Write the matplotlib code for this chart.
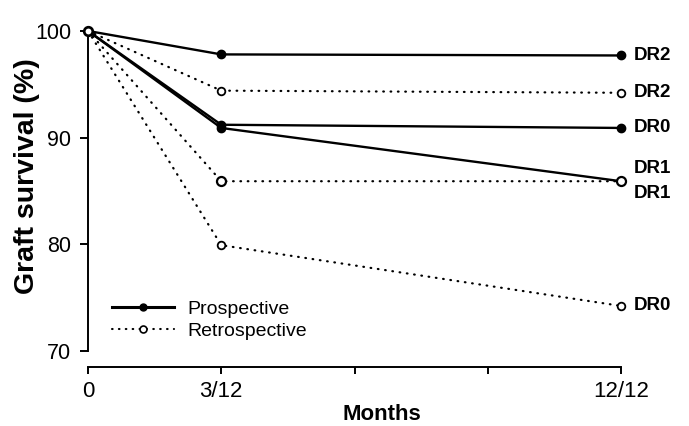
import matplotlib
matplotlib.use("Agg")
import matplotlib.pyplot as plt
from matplotlib.lines import Line2D

plt.rcParams['font.family'] = ['Liberation Sans', 'DejaVu Sans']

months = [0, 3, 12]
prosp_dr2 = [100, 97.8, 97.7]
prosp_dr0 = [100, 91.2, 90.9]
prosp_dr1 = [100, 90.9, 85.9]
retro_dr2 = [100, 94.4, 94.2]
retro_dr1 = [100, 85.9, 85.9]
retro_dr0 = [100, 79.9, 74.2]

xticks = [0, 3, 6, 9, 12]
xticklabels = ['0', '3/12', '', '', '12/12']
yticks = [70, 80, 90, 100]

fig = plt.figure(figsize=(6.89, 4.26), dpi=100)
W, H = 689, 426
x0, x12 = 88, 621
pxm = (x12 - x0) / 12.0
xmax = 13.0
y_top_px = 20.3
y_bot_px = 367
axw_px = xmax * pxm
axh_px = y_bot_px - y_top_px
ax = fig.add_axes([x0 / W, (H - y_bot_px) / H, axw_px / W, axh_px / H])
ax.set_xlim(0, xmax)
ax.set_ylim(68.47, 101)

solid = dict(color='black', lw=1.7, solid_capstyle='round', clip_on=False, zorder=3)
dotted = dict(color='black', lw=1.6, linestyle=(0, (0.3, 3.0)), dash_capstyle='round',
              clip_on=False, zorder=4)

ax.plot(months, prosp_dr2, marker='o', ms=6, mfc='black', mec='black', **solid)
ax.plot(months, prosp_dr0, marker='o', ms=6, mfc='black', mec='black', **solid)
ax.plot(months, prosp_dr1, marker='o', ms=6, mfc='black', mec='black', **solid)
ax.plot(months, retro_dr2, marker='o', ms=5.5, mfc='white', mec='black', mew=1.3, **dotted)
ax.plot(months, retro_dr1, marker='o', ms=6.5, mfc='white', mec='black', mew=1.6, **dotted)
ax.plot(months, retro_dr0, marker='o', ms=5.5, mfc='white', mec='black', mew=1.3, **dotted)

# end labels
labels = [
    (prosp_dr2[-1], 'DR2', 0),
    (retro_dr2[-1], 'DR2', 0),
    (prosp_dr0[-1], 'DR0', 0),
    (prosp_dr1[-1], 'DR1', 9),
    (retro_dr1[-1], 'DR1', -9),
    (retro_dr0[-1], 'DR0', 0),
]
for yv, txt, dy in labels:
    ax.annotate(txt, xy=(12, yv), xytext=(9.5, dy), textcoords='offset points',
                ha='left', va='center', fontsize=13.5, fontweight='bold', annotation_clip=False)

# spines
for s in ['top', 'right']:
    ax.spines[s].set_visible(False)
ax.spines['left'].set_bounds(70, 100)
ax.spines['bottom'].set_bounds(0, 12)
ax.spines['left'].set_linewidth(1.4)
ax.spines['bottom'].set_linewidth(1.4)

ax.set_yticks(yticks)
ax.set_yticklabels([str(v) for v in yticks])
ax.set_xticks(xticks)
ax.set_xticklabels(xticklabels)
ax.tick_params(axis='y', direction='out', length=6, width=1.4, pad=6, labelsize=15.5)
ax.tick_params(axis='x', direction='out', length=5, width=1.4, pad=5, labelsize=16)

ax.set_ylabel('Graft survival (%)', fontsize=20.5, fontweight='bold')
ax.yaxis.label.set_va('center')
ax.yaxis.set_label_coords((27 - x0) / axw_px, (y_bot_px - 176) / axh_px)
ax.set_xlabel('Months', fontsize=16, fontweight='bold')
ax.xaxis.label.set_va('center')
ax.xaxis.set_label_coords((382 - x0) / axw_px, (y_bot_px - 415) / axh_px)

h1 = Line2D([], [], color='black', lw=2.2, marker='o', ms=5, mfc='black')
h2 = Line2D([], [], color='black', lw=1.5, linestyle=(0, (0.3, 3.0)), dash_capstyle='round',
            marker='o', ms=5, mfc='white', mew=1.2)
leg = ax.legend([h1, h2], ['Prospective', 'Retrospective'], loc='upper left',
                bbox_to_anchor=((112 - x0) / axw_px, (y_bot_px - 300) / axh_px),
                frameon=False, fontsize=14, handlelength=3.2, handletextpad=0.7,
                labelspacing=0.25, numpoints=1, borderaxespad=0, borderpad=0)

fig.savefig('out.png', dpi=100)
